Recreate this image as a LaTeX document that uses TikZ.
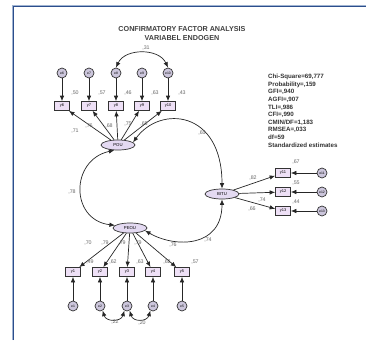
\documentclass[tikz,border=0pt]{standalone}
\usepackage{fontspec}
\setmainfont{Liberation Sans}
\usetikzlibrary{arrows.meta,shapes.geometric}
\definecolor{framedark}{RGB}{44,78,140}
\definecolor{framelight}{RGB}{160,180,210}
\definecolor{boxfill}{RGB}{238,224,246}
\definecolor{errfill}{RGB}{204,198,220}
\definecolor{latfill}{RGB}{228,218,242}
\begin{document}
\begin{tikzpicture}[x=1pt,y=-1pt,
  obs/.style={draw=black!80, fill=boxfill, minimum width=15pt, minimum height=9pt,
    inner sep=0pt, line width=0.7pt, font=\fontsize{4}{4.5}\selectfont},
  err/.style={circle, draw=black!80, fill=errfill, minimum size=10pt, inner sep=0pt,
    line width=0.7pt, font=\fontsize{3.4}{4}\selectfont},
  lat/.style={ellipse, draw=black!80, fill=latfill, minimum width=34pt, minimum height=10pt,
    inner sep=0pt, line width=0.7pt, font=\fontsize{4.3}{5}\selectfont},
  est/.style={text=black!60, font=\fontsize{5.3}{6}\selectfont, inner sep=0pt},
  arr/.style={-{Latex[length=5.5pt,width=4.5pt]}, draw=black!85, line width=0.7pt},
  cov/.style={{Latex[length=5.5pt,width=4.5pt]}-{Latex[length=5.5pt,width=4.5pt]}, draw=black!85, line width=0.7pt}]
\useasboundingbox (0,0) rectangle (366,340);

% page frame
\draw[framelight, line width=0.8pt] (12.2,340) -- (12.2,5.2) -- (366,5.2);
\draw[framedark, line width=1.3pt] (13.6,340) -- (13.6,6.6) -- (366,6.6);

% title
\node[font=\bfseries\fontsize{7.2}{9}\selectfont, align=center, text=black!75] (title) at (182,33.5)
  {CONFIRMATORY FACTOR ANALYSIS\\VARIABEL ENDOGEN};

% latent variables
\node[lat] (POU) at (118,145) {POU};
\node[lat] (PEOU) at (130,228) {PEOU};
\node[lat] (BITU) at (222,194) {BITU};

% indicators of POU
\foreach \n/\x in {6/62,7/89,8/116,9/142,10/168}{
  \node[obs] (y\n) at (\x,106) {y\n};
  \node[err] (e\n) at (\x,73) {e\n};
  \draw[arr] (e\n) -- (y\n);
  \draw[arr] (POU) -- (y\n);
}
% indicators of PEOU
\foreach \n/\x in {1/73,2/100,3/127,4/153,5/182}{
  \node[obs] (y\n) at (\x,272) {y\n};
  \node[err] (e\n) at (\x,306) {e\n};
  \draw[arr] (e\n) -- (y\n);
  \draw[arr] (PEOU) -- (y\n);
}
% indicators of BITU
\foreach \n/\y in {11/173,12/192,13/211}{
  \node[obs] (y\n) at (283,\y) {y\n};
  \node[err] (e\n) at (322,\y) {e\n};
  \draw[arr] (e\n) -- (y\n);
  \draw[arr] (BITU) -- (y\n);
}

% covariances
\draw[cov] (e8.north) .. controls (125,48) and (159,48) .. (e10.north);
\draw[cov] (e2.-60) .. controls (106,322) and (121,322) .. (e3.-120);
\draw[cov] (e3.-60) .. controls (133,322) and (147,322) .. (e4.-120);
\draw[cov] (POU.235) .. controls (70,160) and (70,220) .. (PEOU.170);
\draw[cov] (POU.10) .. controls (160,105) and (222,110) .. (BITU.north);
\draw[cov] (PEOU.-10) .. controls (175,248) and (222,248) .. (BITU.south);

% estimates
\node[est] (c31) at (146,48) {,31};
\foreach \v/\x in {50/75,57/102,46/128,63/155,43/182}{ \node[est] at (\x,93) {,\v}; }
\node[est] at (75,131) {,71};
\node[est] at (89,126) {,76};
\node[est] at (109,126) {,68};
\node[est] at (128,124) {,75};
\node[est] at (144,124) {,65};
\node[est] at (72,192) {,78};
\node[est] at (202,133) {,65};
\node[est] at (88,243) {,70};
\node[est] at (105,243) {,79};
\node[est] at (122,243) {,79};
\node[est] at (138,243) {,79};
\node[est] at (173,245) {,76};
\node[est] at (208,240) {,74};
\foreach \v/\x in {49/90,62/113,63/140,62/167,57/195}{ \node[est] at (\x,262) {,\v}; }
\node[est] at (115,322) {,22};
\node[est] at (142,323) {,20};
\node[est] at (253,178) {,82};
\node[est] at (262,200) {,74};
\node[est] at (252,209) {,66};
\node[est] at (296,162) {,67};
\node[est] at (296,183) {,55};
\node[est] at (296,202) {,44};

% fit statistics
\node[anchor=north west, align=left, inner sep=0pt, text=black!80,
  font=\bfseries\fontsize{6.2}{7.6}\selectfont] (fit) at (268,74)
  {Chi-Square=69,777\\Probability=,159\\GFI=,940\\AGFI=,907\\TLI=,986\\CFI=,990\\CMIN/DF=1,183\\RMSEA=,033\\df=59\\Standardized estimates};
\end{tikzpicture}
\end{document}
